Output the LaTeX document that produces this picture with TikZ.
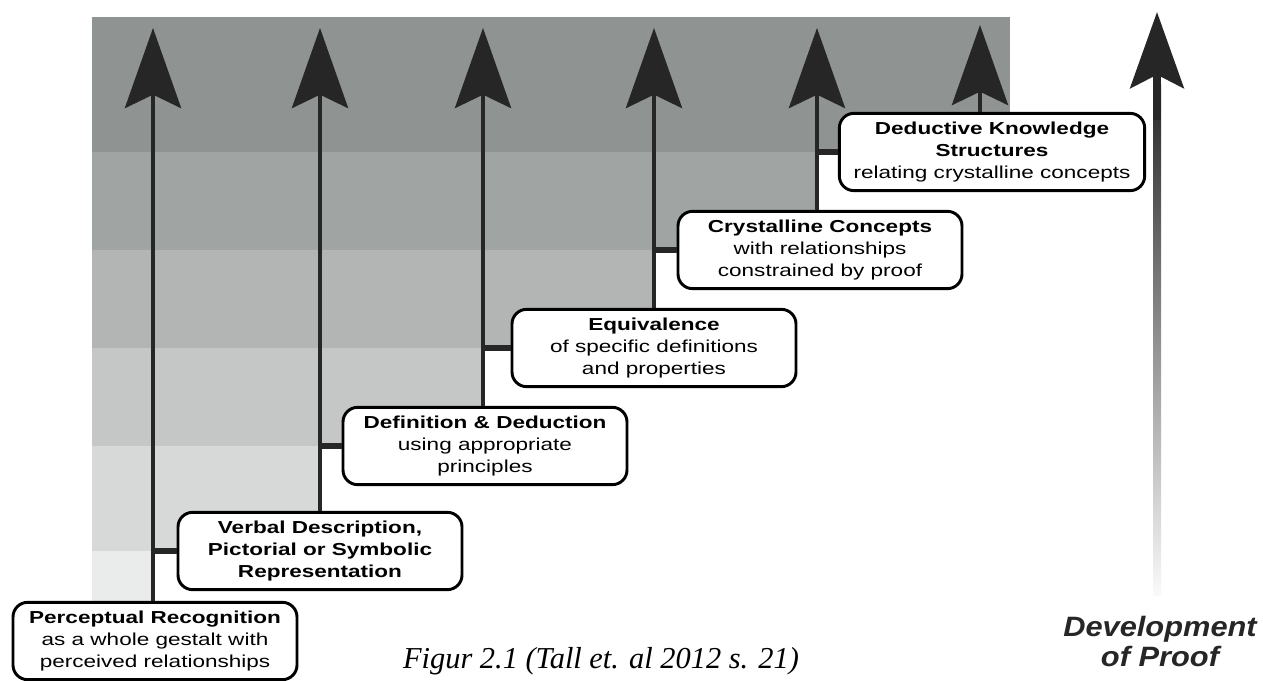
\documentclass[tikz,border=0pt]{standalone}
\usepackage{fontspec}
\usepackage{xcolor}
\usepackage{tikz}
\usetikzlibrary{positioning,arrows.meta}

\setmainfont{Liberation Serif}
\newfontfamily\stagefont[FakeStretch=1.3]{Liberation Sans}
\newfontfamily\proofont[FakeStretch=1.1]{Liberation Sans}

\definecolor{bandA}{RGB}{143,147,146}
\definecolor{bandB}{RGB}{160,164,163}
\definecolor{bandC}{RGB}{178,181,180}
\definecolor{bandD}{RGB}{196,199,198}
\definecolor{bandE}{RGB}{215,217,217}
\definecolor{bandF}{RGB}{234,236,236}

\begin{document}
\begin{tikzpicture}[
				x=0.75pt, y=-0.75pt,
				font=\stagefont\fontsize{13}{16.5}\selectfont,
				stage/.style={
					rounded corners=11pt,
					draw=black,
					line width=2.2pt,
					fill=white,
					minimum width=213pt,
					minimum height=58pt,
					inner sep=4pt,
					align=center
				},
				rise/.style={
					draw=black!85,
					line width=3.5pt,
					-{Stealth[length=60pt,width=42pt,inset=10pt]}
				},
				stub/.style={draw=black!85, line width=4pt}
				]
				\useasboundingbox (0,0) rectangle (1263,681);
				
				% shaded staircase behind the levels
				\fill[bandA] (92,17) rectangle (1010,152);
				\fill[bandB] (92,152) rectangle (817,250);
				\fill[bandC] (92,250) rectangle (654,348);
				\fill[bandD] (92,348) rectangle (483,446);
				\fill[bandE] (92,446) rectangle (320,551);
				\fill[bandF] (92,551) rectangle (153,603);
				
				\node[stage] (b1) at (155,641) {\textbf{Perceptual Recognition}\\as a whole gestalt with\\perceived relationships};
				\node[stage] (b2) at (320,551) {\textbf{Verbal Description,}\\\textbf{Pictorial or Symbolic}\\\textbf{Representation}};
				\node[stage] (b3) at (485,446) {\textbf{Definition \& Deduction}\\using appropriate\\principles};
				\node[stage] (b4) at (654,348) {\textbf{Equivalence}\\of specific definitions\\and properties};
				\node[stage] (b5) at (820,250) {\textbf{Crystalline Concepts}\\with relationships\\constrained by proof};
				\node[stage, minimum width=229pt] (b6) at (992,152) {\textbf{Deductive Knowledge}\\\textbf{Structures}\\relating crystalline concepts};
				
				\coordinate (t1) at (153,28);
				\coordinate (t2) at (320,28);
				\coordinate (t3) at (483,28);
				\coordinate (t4) at (654,28);
				\coordinate (t5) at (817,28);
				\coordinate (t6) at (980,25);
				
				\draw[rise] (t1 |- b1.north) -- (t1);
				\draw[rise] (t2 |- b2.north) -- (t2);
				\draw[rise] (t3 |- b3.north) -- (t3);
				\draw[rise] (t4 |- b4.north) -- (t4);
				\draw[rise] (t5 |- b5.north) -- (t5);
				\draw[rise] (t6 |- b6.north) -- (t6);
				
				\draw[stub] (t1 |- b2.west) -- (b2.west);
				\draw[stub] (t2 |- b3.west) -- (b3.west);
				\draw[stub] (t3 |- b4.west) -- (b4.west);
				\draw[stub] (t4 |- b5.west) -- (b5.west);
				\draw[stub] (t5 |- b6.west) -- (b6.west);
				
				% fading arrow on the right
				\coordinate (t7) at (1157,12);
				\node[font=\proofont\bfseries\itshape\fontsize{21}{22.5}\selectfont, align=center, text=black!85] (dev) at (1160,641) {Development\\of Proof};
				\shade[top color=black!85, middle color=black!45, bottom color=black!2] (1153,595) rectangle (1161,85);
				\draw[draw=black!85, line width=6pt, -{Stealth[length=57pt,width=40pt,inset=10pt]}] (1157,120) -- (t7);
				
				\node[font=\rmfamily\itshape\fontsize{22.8}{26}\selectfont, anchor=base] (cap) at (601,668) {Figur 2.1 (Tall et. al 2012 s. 21)};
			\end{tikzpicture}
\end{document}
